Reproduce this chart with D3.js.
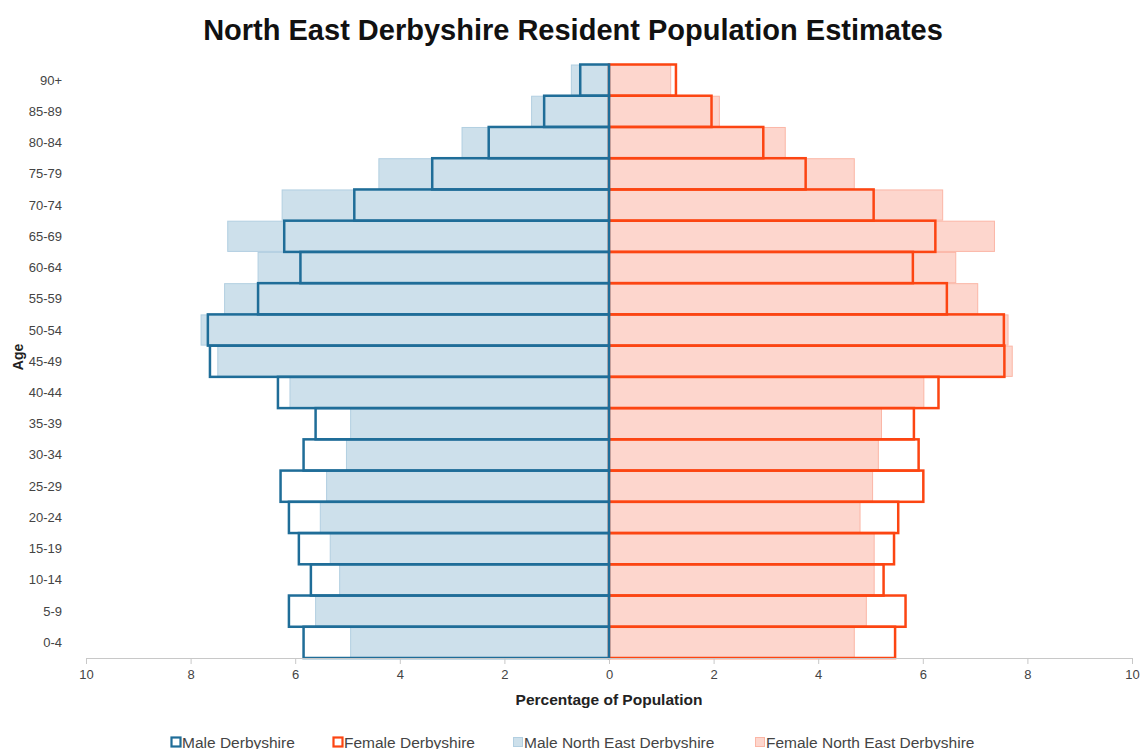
<!DOCTYPE html>
<html>
<head>
<meta charset="utf-8">
<script src="https://cdn.jsdelivr.net/npm/d3@7/dist/d3.min.js"></script>
<style>
  html, body { margin: 0; padding: 0; background: #fff; }
  svg { display: block; font-family: "Liberation Sans", Arial, sans-serif; }
</style>
</head>
<body>
<svg id="chart" width="1145" height="749"></svg>
<script>
const ages = ["0-4","5-9","10-14","15-19","20-24","25-29","30-34","35-39","40-44","45-49","50-54","55-59","60-64","65-69","70-74","75-79","80-84","85-89","90+"];
const maleDerbyshire   = [5.84, 6.12, 5.70, 5.93, 6.12, 6.28, 5.84, 5.61, 6.33, 7.63, 7.67, 6.71, 5.90, 6.21, 4.87, 3.38, 2.30, 1.24, 0.55];
const femaleDerbyshire = [5.47, 5.67, 5.25, 5.45, 5.53, 6.01, 5.92, 5.83, 6.30, 7.56, 7.55, 6.46, 5.81, 6.24, 5.06, 3.76, 2.95, 1.96, 1.28];
const maleNED          = [4.94, 5.61, 5.15, 5.33, 5.52, 5.40, 5.02, 4.94, 6.10, 7.48, 7.80, 7.35, 6.71, 7.29, 6.25, 4.40, 2.81, 1.48, 0.72];
const femaleNED        = [4.69, 4.92, 5.07, 5.07, 4.80, 5.04, 5.15, 5.21, 6.02, 7.71, 7.63, 7.05, 6.63, 7.37, 6.38, 4.69, 3.37, 2.11, 1.18];
const xTicks = [-10, -8, -6, -4, -2, 0, 2, 4, 6, 8, 10];
const legendLabels = ["Male Derbyshire", "Female Derbyshire", "Male North East Derbyshire", "Female North East Derbyshire"];

const C = {
  maleDark: "#1f6d98", femaleDark: "#fc4512",
  maleLight: "#cde0eb", maleLightStroke: "#b2cfe1",
  femaleLight: "#fdd6cd", femaleLightStroke: "#fbb6a6",
  text: "#444", axis: "#c8c8c8"
};

const svg = d3.select("#chart");
const x = d3.scaleLinear().domain([-10, 10]).range([86, 1132]);
const y = d3.scaleBand().domain(ages.slice().reverse()).range([64.5, 658]).padding(0);

// title
svg.append("text").attr("x", 573).attr("y", 40).attr("text-anchor", "middle")
  .attr("font-size", 29).attr("font-weight", "bold").attr("fill", "#111")
  .text("North East Derbyshire Resident Population Estimates");

// NE bars (light fill)
const g = svg.append("g");
function neBars(vals, sign, fill, stroke) {
  g.selectAll(null).data(ages).enter().append("rect")
    .attr("x", (d, i) => sign < 0 ? x(-vals[i]) : x(0))
    .attr("width", (d, i) => Math.abs(x(vals[i]) - x(0)))
    .attr("y", d => y(d) + 0.5)
    .attr("height", y.bandwidth() - 1)
    .attr("fill", fill).attr("stroke", stroke).attr("stroke-width", 1);
}
neBars(maleNED, -1, C.maleLight, C.maleLightStroke);
neBars(femaleNED, 1, C.femaleLight, C.femaleLightStroke);

// Derbyshire outline bars
function outlineBars(vals, sign, stroke) {
  g.selectAll(null).data(ages).enter().append("rect")
    .attr("x", (d, i) => sign < 0 ? x(-vals[i]) : x(0))
    .attr("width", (d, i) => Math.abs(x(vals[i]) - x(0)))
    .attr("y", d => y(d))
    .attr("height", y.bandwidth())
    .attr("fill", "none").attr("stroke", stroke).attr("stroke-width", 2.5);
}
outlineBars(femaleDerbyshire, 1, C.femaleDark);
outlineBars(maleDerbyshire, -1, C.maleDark);

// y axis labels
svg.append("g").selectAll("text").data(ages).enter().append("text")
  .attr("x", 62).attr("y", d => y(d) + y.bandwidth() / 2 + 4.5)
  .attr("text-anchor", "end").attr("font-size", 13).attr("fill", C.text)
  .text(d => d);

svg.append("text").attr("transform", "translate(23,357) rotate(-90)")
  .attr("text-anchor", "middle").attr("font-size", 14).attr("font-weight", "bold")
  .attr("fill", "#222").text("Age");

// x axis
const xAxis = d3.axisBottom(x).tickValues(xTicks).tickFormat(d => Math.abs(d)).tickSize(6).tickPadding(6);
const ax = svg.append("g").attr("transform", "translate(0,658)").call(xAxis);
ax.select(".domain").attr("stroke", C.axis);
ax.selectAll(".tick line").attr("stroke", C.axis);
ax.selectAll(".tick text").attr("font-size", 13).attr("fill", C.text)
  .attr("font-family", "Liberation Sans, Arial, sans-serif");

svg.append("text").attr("x", 609).attr("y", 705).attr("text-anchor", "middle")
  .attr("font-size", 15.5).attr("font-weight", "bold").attr("fill", "#222")
  .text("Percentage of Population");

// legend
const legendX = [171, 333, 513, 755];
const legendStyles = [
  {fill: "#fff", stroke: C.maleDark, sw: 2.2},
  {fill: "#fff", stroke: C.femaleDark, sw: 2.2},
  {fill: C.maleLight, stroke: C.maleLightStroke, sw: 1},
  {fill: C.femaleLight, stroke: C.femaleLightStroke, sw: 1}
];
const lg = svg.append("g").selectAll("g").data(legendLabels).enter().append("g")
  .attr("transform", (d, i) => `translate(${legendX[i]},737)`);
lg.append("rect").attr("x", 0.5).attr("y", 0.5).attr("width", 9).attr("height", 9)
  .attr("fill", (d, i) => legendStyles[i].fill)
  .attr("stroke", (d, i) => legendStyles[i].stroke)
  .attr("stroke-width", (d, i) => legendStyles[i].sw);
lg.append("text").attr("x", 11).attr("y", 10.5).attr("font-size", 15.5).attr("fill", C.text)
  .text(d => d);
</script>
</body>
</html>
